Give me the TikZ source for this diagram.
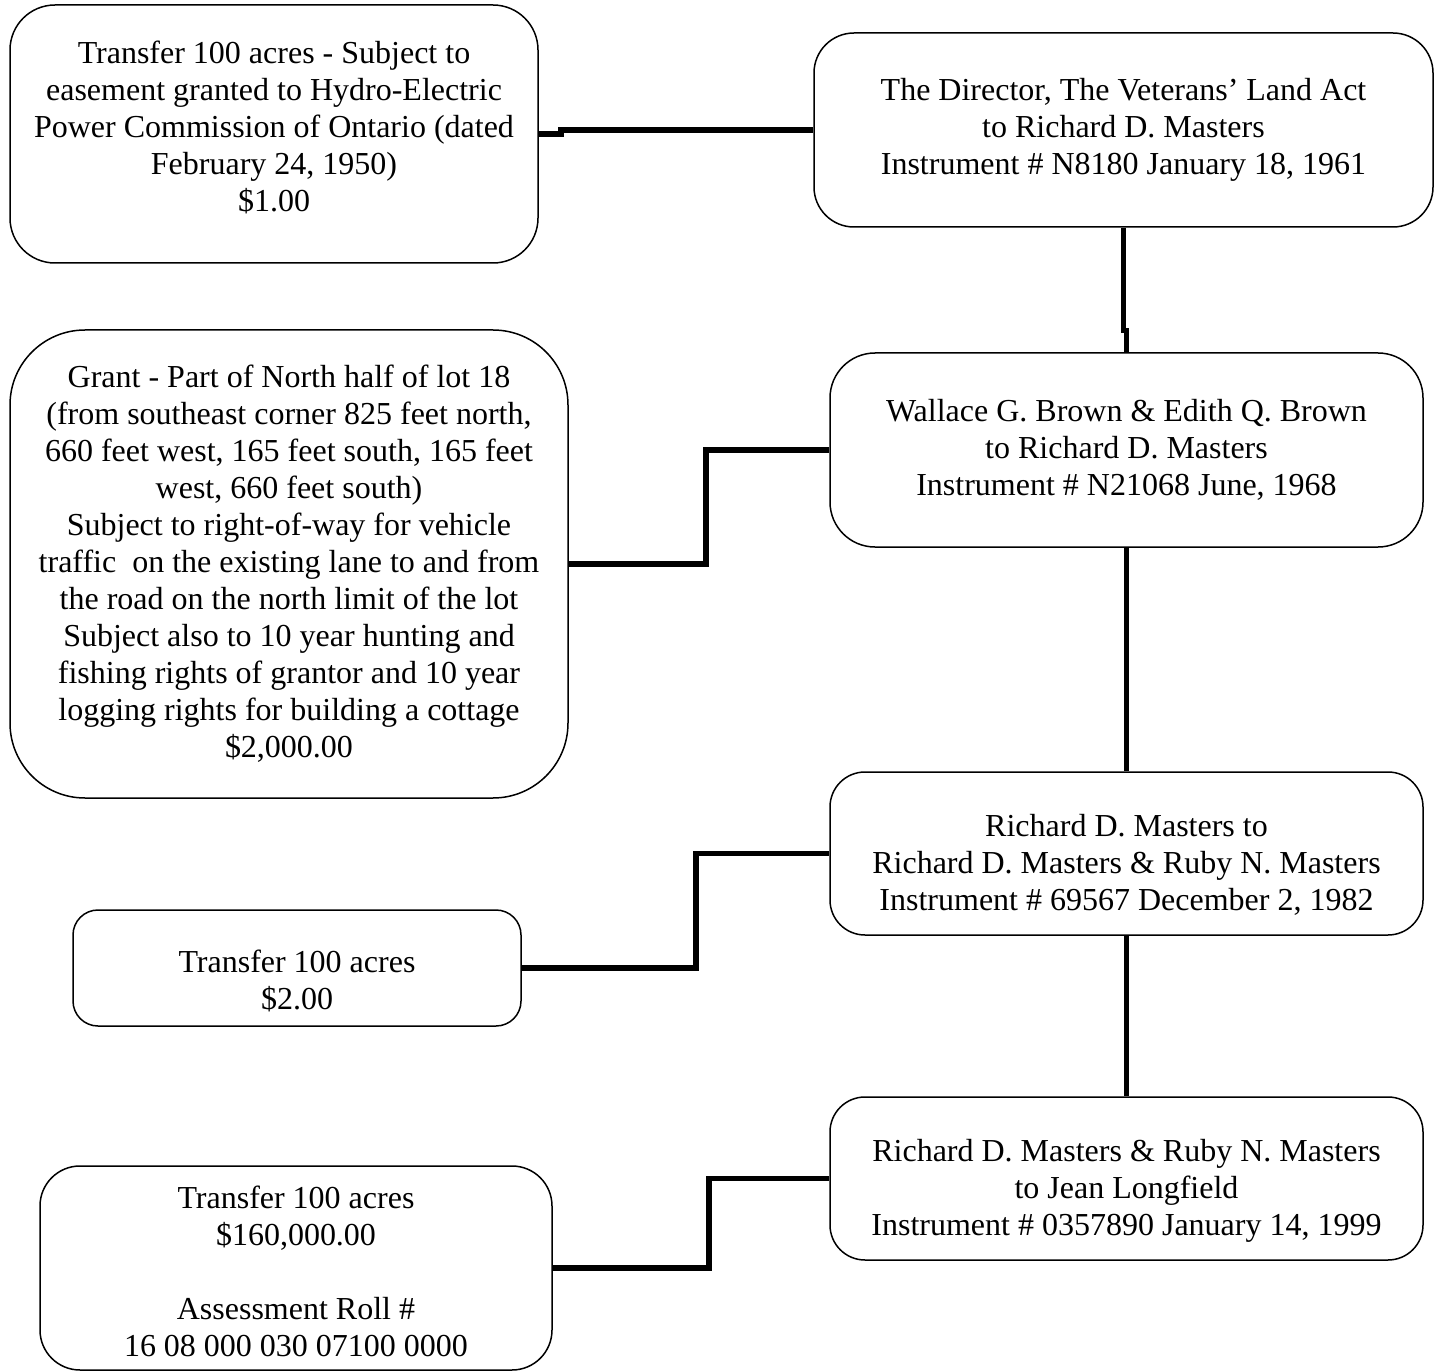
\documentclass[tikz,border=0pt]{standalone}
\usepackage{fontspec}
\setmainfont{Liberation Serif}
\begin{document}
\begin{tikzpicture}[x=1pt,y=-1pt,
  box/.style={draw, line width=1.5pt, inner sep=0pt},
  txt/.style={inner sep=0pt, align=center, font=\fontsize{32}{37}\selectfont},
  link/.style={line width=5.5pt},
  vlink/.style={line width=4.5pt}]
\useasboundingbox (0,0) rectangle (1441,1372);
% boxes
\node[box, rounded corners=45pt, minimum width=528pt, minimum height=258pt] (A) at (274,134) {};
\node[box, rounded corners=40pt, minimum width=619pt, minimum height=194pt] (B) at (1123.5,130) {};
\node[box, rounded corners=45pt, minimum width=593pt, minimum height=194pt] (C) at (1126.5,450) {};
\node[box, rounded corners=75pt, minimum width=558pt, minimum height=468pt] (D) at (289,564) {};
\node[box, rounded corners=35pt, minimum width=593pt, minimum height=163pt] (E) at (1126.5,853.5) {};
\node[box, rounded corners=25pt, minimum width=448pt, minimum height=116pt] (F) at (297,968) {};
\node[box, rounded corners=35pt, minimum width=593pt, minimum height=163pt] (G) at (1126.5,1178.5) {};
\node[box, rounded corners=40pt, minimum width=512pt, minimum height=204pt] (H) at (296,1268) {};
% texts
\node[txt] (At) at ([yshift=7pt]A.center)
  {Transfer 100 acres - Subject to\\easement granted to Hydro-Electric\\Power Commission of Ontario (dated\\February 24, 1950)\\\$1.00};
\node[txt] (Bt) at (B.center)
  {The Director, The Veterans’ Land Act\\to Richard D. Masters\\Instrument \# N8180 January 18, 1961};
\node[txt] (Ct) at (C.center)
  {Wallace G. Brown \& Edith Q. Brown\\to Richard D. Masters\\Instrument \# N21068 June, 1968};
\node[txt] (Dt) at (D.center)
  {Grant - Part of North half of lot 18\\(from southeast corner 825 feet north,\\660 feet west, 165 feet south, 165 feet\\west, 660 feet south)\\Subject to right-of-way for vehicle\\traffic\ \ on the existing lane to and from\\the road on the north limit of the lot\\Subject also to 10 year hunting and\\fishing rights of grantor and 10 year\\logging rights for building a cottage\\\$2,000.00};
\node[txt] (Et) at ([yshift=-11pt]E.center)
  {Richard D. Masters to\\Richard D. Masters \& Ruby N. Masters\\Instrument \# 69567 December 2, 1982};
\node[txt] (Ft) at ([yshift=-13pt]F.center)
  {Transfer 100 acres\\\$2.00};
\node[txt] (Gt) at ([yshift=-12pt]G.center)
  {Richard D. Masters \& Ruby N. Masters\\to Jean Longfield\\Instrument \# 0357890 January 14, 1999};
\node[txt] (Ht) at ([yshift=-3pt]H.center)
  {Transfer 100 acres\\\$160,000.00\\[37pt]Assessment Roll \#\\16 08 000 030 07100 0000};
% connectors
\draw[link] (A.east) -- ++(22,0) |- (B.west);
\draw[vlink] (B.south) -- ++(0,103) -| (C.north);
\draw[vlink] (C.south) -- (E.north);
\draw[vlink] (E.south) -- (G.north);
\draw[link] (D.east) -- ++(137,0) |- (C.west);
\draw[link] (F.east) -- ++(174,0) |- (E.west);
\draw[link] (H.east) -- ++(156,0) |- (G.west);
\end{tikzpicture}
\end{document}
